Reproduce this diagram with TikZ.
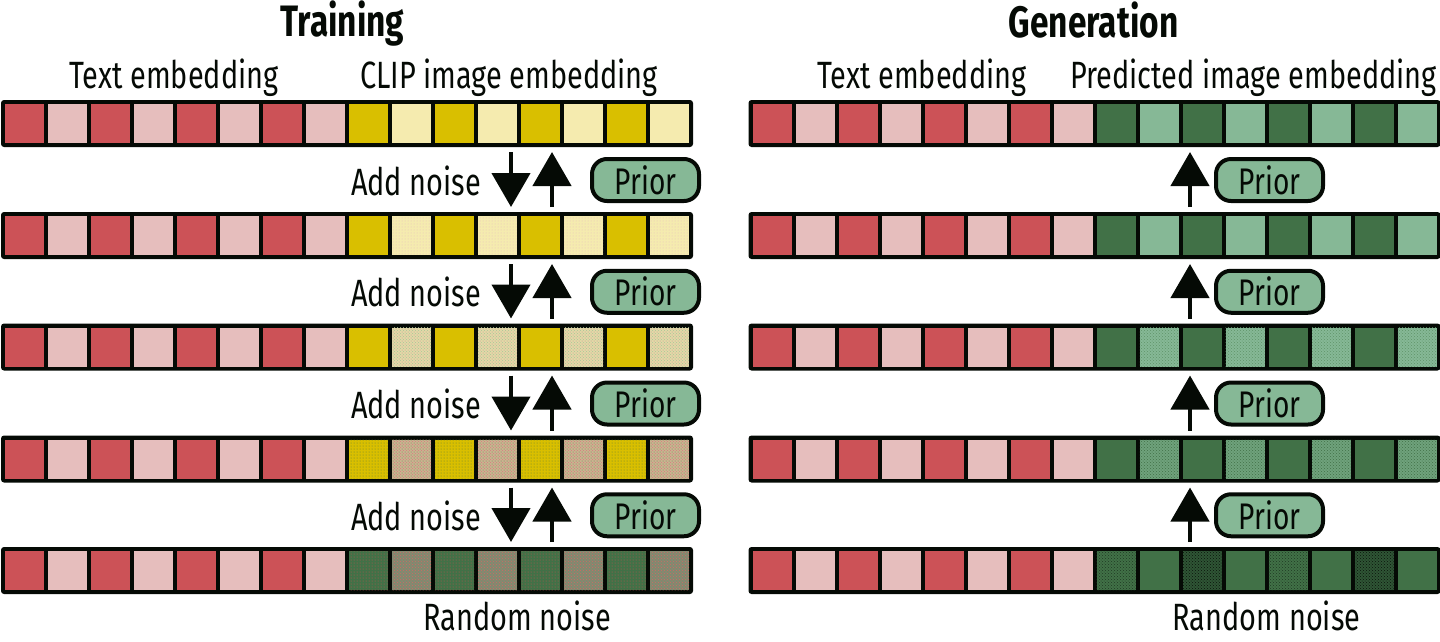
\documentclass[tikz,border=0pt]{standalone}
\usepackage{fontspec}
\setmainfont{Fira Sans}[FakeStretch=0.76]
\usetikzlibrary{arrows.meta,patterns,calc}
\definecolor{ink}{HTML}{050A05}
\definecolor{cred}{HTML}{CC5257}
\definecolor{cpink}{HTML}{E6BEBD}
\definecolor{cyel}{HTML}{D9BF00}
\definecolor{clyel}{HTML}{F5EBAF}
\definecolor{cdg}{HTML}{417147}
\definecolor{clg}{HTML}{86B896}
\tikzset{
  rowbox/.style={fill=ink, rounded corners=3pt, minimum width=692pt, minimum height=47pt, inner sep=0pt, outer sep=0pt},
  cell/.style={minimum size=39pt, inner sep=0pt, outer sep=0pt},
  tr/.style={fill=cred},
  tp/.style={fill=cpink},
  yy/.style={fill=cyel},
  ly/.style={fill=clyel},
  lyb/.style={fill=clyel, postaction={pattern=dots, pattern color=cpink}},
  lyc/.style={fill={rgb,255:red,227;green,217;blue,166}, postaction={pattern=crosshatch dots, pattern color={rgb,255:red,169;green,195;blue,154}}, postaction={pattern=dots, pattern color={rgb,255:red,231;green,167;blue,167}}},
  yyd/.style={fill=cyel, postaction={pattern=dots, pattern color={rgb,255:red,95;green,127;blue,58}}},
  lyd/.style={fill={rgb,255:red,201;green,181;blue,142}, postaction={pattern=crosshatch dots, pattern color={rgb,255:red,215;green,122;blue,130}}, postaction={pattern=dots, pattern color={rgb,255:red,110;green,159;blue,116}}},
  gr/.style={fill=cdg, postaction={pattern=dots, pattern color={rgb,255:red,201;green,80;blue,80}}},
  grn/.style={fill={rgb,255:red,125;green,140;blue,112}, postaction={pattern=crosshatch dots, pattern color={rgb,255:red,214;green,100;blue,100}}},
  dg/.style={fill=cdg},
  lg/.style={fill=clg},
  lgc/.style={fill=clg, postaction={pattern=crosshatch dots, pattern color={rgb,255:red,94;green,148;blue,104}}},
  lgd/.style={fill={rgb,255:red,111;green,162;blue,124}, postaction={pattern=crosshatch dots, pattern color=cdg}},
  dgn/.style={fill=cdg, postaction={pattern=crosshatch dots, pattern color={rgb,255:red,31;green,58;blue,35}}},
  dgm/.style={fill={rgb,255:red,47;green,85;blue,53}, postaction={pattern=crosshatch dots, pattern color={rgb,255:red,10;green,20;blue,11}}},
  prior/.style={draw=ink, line width=4pt, fill=clg, rounded corners=15pt, minimum width=107pt, minimum height=42pt, inner sep=0pt, font=\fontsize{37}{37}\selectfont, text=ink},
  ttl/.style={font=\bfseries\fontsize{44}{44}\selectfont, text=ink, inner sep=0pt, anchor=base},
  lbl/.style={font=\fontsize{38}{38}\selectfont, text=ink, inner sep=0pt, anchor=base},
  addn/.style={font=\fontsize{38}{38}\selectfont, text=ink, inner sep=0pt, anchor=base},
  rnd/.style={font=\fontsize{38}{38}\selectfont, text=ink, inner sep=0pt, anchor=base},
  arr/.style={draw=ink, line width=4.5pt, -{Triangle[length=34pt, width=38pt]}},
}
\newcommand\embrow[4]{%
  \node[rowbox, anchor=north west] (#1) at (#2,#3) {};
  \foreach \s [count=\i from 0] in {tr,tp,tr,tp,tr,tp,tr,tp,#4}
    \node[cell,\s,anchor=north west] (#1-\i) at ($(#1.north west)+(4+43*\i,4)$) {};
}
\begin{document}
\begin{tikzpicture}[x=1pt,y=-1pt]
\useasboundingbox (0,0) rectangle (1440,641);
% titles
\node[ttl] (tTrain) at (342.5,36) {Training};
\node[ttl] (tGen) at (1093.5,37) {Generation};
\node[lbl] (lTextL) at (174,88) {Text embedding};
\node[lbl] (lClip) at (509,88) {CLIP image embedding};
\node[lbl] (lTextR) at (922,88) {Text embedding};
\node[lbl] (lPred) at (1253.5,88) {Predicted image embedding};
% left rows
\embrow{L1}{1}{100}{yy,ly,yy,ly,yy,ly,yy,ly}
\embrow{L2}{1}{212}{yy,lyb,yy,lyb,yy,lyb,yy,lyb}
\embrow{L3}{1}{323.5}{yy,lyc,yy,lyc,yy,lyc,yy,lyc}
\embrow{L4}{1}{435.5}{yyd,lyd,yyd,lyd,yyd,lyd,yyd,lyd}
\embrow{L5}{1}{547}{gr,grn,gr,grn,gr,grn,gr,grn}
% right rows
\embrow{R1}{748.5}{100}{dg,lg,dg,lg,dg,lg,dg,lg}
\embrow{R2}{748.5}{212}{dg,lg,dg,lg,dg,lg,dg,lg}
\embrow{R3}{748.5}{323.5}{dg,lgc,dg,lgc,dg,lgc,dg,lgc}
\embrow{R4}{748.5}{435.5}{dg,lgd,dg,lgd,dg,lgd,dg,lgd}
\embrow{R5}{748.5}{547}{dgn,dg,dgm,dg,dgn,dg,dgm,dg}
\node[rnd] (rndL) at (517,630) {Random noise};
\node[rnd] (rndR) at (1266.5,630) {Random noise};
% arrow columns
\coordinate (dnx) at (511,0);
\coordinate (upx) at (552,0);
\coordinate (upr) at (1190,0);
\foreach \a/\b [count=\k from 0] in {1/2,2/3,3/4,4/5}{
  \node[addn] (add\k) at (416,{195+111.75*\k}) {Add noise};
  \node[prior] (pL\k) at (645.5,{180+111.75*\k}) {Prior};
  \node[prior] (pR\k) at (1269.5,{180+111.75*\k}) {Prior};
  \draw[arr] ([yshift=-5pt]L\a.south -| dnx) -- ([yshift=5pt]L\b.north -| dnx);
  \draw[arr] ([yshift=5pt]L\b.north -| upx) -- ([yshift=-5pt]L\a.south -| upx);
  \draw[arr] ([yshift=5pt]R\b.north -| upr) -- ([yshift=-5pt]R\a.south -| upr);
}
\end{tikzpicture}
\end{document}
